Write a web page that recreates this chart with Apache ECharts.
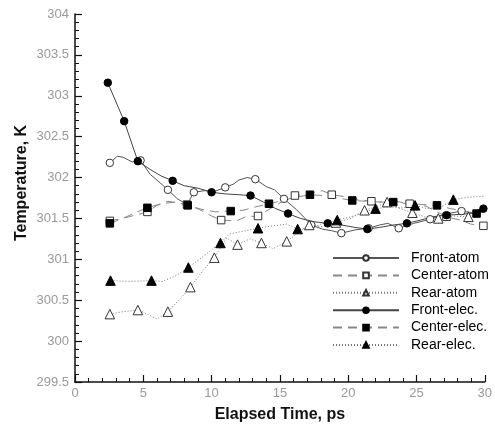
<!DOCTYPE html>
<html>
<head>
<meta charset="utf-8">
<script src="https://cdn.jsdelivr.net/npm/echarts@6/dist/echarts.min.js"></script>
<style>
html,body{margin:0;padding:0;background:#fff;}
#chart{width:495px;height:428px;}
</style>
</head>
<body>
<div id="chart"></div>
<script>
// ---- data ----
var xTicks = [0, 5, 10, 15, 20, 25, 30];
var yTicks = [299.5, 300, 300.5, 301, 301.5, 302, 302.5, 303, 303.5, 304];
var yTitle = 'Temperature, K';
var xTitle = 'Elapsed Time, ps';

var frontAtomX = [2.55,3.1,3.5,4.2,4.8,5.5,6.0,6.8,7.5,8.2,8.7,9.5,10.2,11.0,11.6,12.0,12.6,13.2,14.0,14.6,15.3,16.2,16.9,17.3,18.1,18.8,19.5,20.5,21.5,22.3,22.9,23.7,24.8,26.0,27.0,28.3,29.0,29.8];
var frontAtomY = [302.18,302.26,302.25,302.19,302.21,302.04,301.97,301.85,301.74,301.67,301.82,301.84,301.83,301.88,301.92,301.97,302.0,301.98,301.89,301.85,301.74,301.61,301.49,301.42,301.37,301.35,301.32,301.36,301.38,301.42,301.44,301.38,301.44,301.49,301.55,301.59,301.57,301.62];
var frontAtomMarks = [2.55,4.8,6.8,8.7,11.0,13.2,15.3,17.3,19.5,21.5,23.7,26.0,28.3];

var centerAtomX = [2.55,3.5,4.4,5.3,6.0,6.8,7.5,8.2,9.1,10.0,10.7,11.8,12.5,13.4,14.6,15.3,16.1,17.0,18.1,18.8,19.6,20.8,21.7,22.6,23.5,24.5,25.7,27.2,28.2,29.0,29.9];
var centerAtomY = [301.47,301.5,301.54,301.58,301.66,301.71,301.69,301.67,301.61,301.53,301.48,301.47,301.52,301.53,301.65,301.72,301.78,301.8,301.84,301.79,301.77,301.73,301.71,301.7,301.71,301.68,301.65,301.52,301.48,301.43,301.41];
var centerAtomMarks = [2.55,5.3,8.2,10.7,13.4,16.1,18.8,21.7,24.5,27.2,29.9];

var rearAtomX = [2.55,3.5,4.6,5.3,6.0,6.8,7.6,8.45,9.3,10.2,11.1,11.9,12.8,13.65,14.5,15.5,16.3,17.15,18.1,19.1,20.2,21.2,22.0,22.85,23.8,24.7,25.6,26.6,27.7,28.8,29.9];
var rearAtomY = [300.33,300.36,300.38,300.33,300.27,300.36,300.5,300.66,300.85,301.02,301.26,301.18,301.25,301.2,301.13,301.22,301.32,301.42,301.4,301.45,301.5,301.6,301.64,301.7,301.62,301.57,301.52,301.5,301.53,301.52,301.6];
var rearAtomMarks = [2.55,4.6,6.8,8.45,10.2,11.9,13.65,15.5,17.15,19.1,21.2,22.85,24.7,26.6,28.8];

var frontElecX = [2.4,3.6,4.6,5.5,6.3,7.15,8.0,9.0,10.0,11.0,12.0,12.85,13.8,14.7,15.6,16.5,17.5,18.5,19.5,20.5,21.4,22.3,23.3,24.3,25.3,26.2,27.2,28.2,29.0,29.9];
var frontElecY = [303.16,302.69,302.2,302.1,302.02,301.96,301.9,301.87,301.82,301.8,301.79,301.78,301.7,301.62,301.56,301.5,301.46,301.44,301.42,301.39,301.37,301.39,301.42,301.44,301.48,301.52,301.54,301.55,301.56,301.62];
var frontElecMarks = [2.4,3.6,4.6,7.15,10.0,12.85,15.6,18.5,21.4,24.3,27.2,29.9];

var centerElecX = [2.55,3.5,4.4,5.3,6.3,7.3,8.25,9.3,10.3,11.4,12.3,13.2,14.2,15.2,16.2,17.2,18.2,19.2,20.3,21.3,22.3,23.3,24.4,25.5,26.5,27.5,28.5,29.4,29.9];
var centerElecY = [301.44,301.5,301.57,301.63,301.68,301.7,301.66,301.61,301.58,301.59,301.6,301.64,301.68,301.72,301.76,301.79,301.78,301.75,301.72,301.71,301.7,301.7,301.68,301.67,301.66,301.62,301.59,301.56,301.58];
var centerElecMarks = [2.55,5.3,8.25,11.4,14.2,17.2,20.3,23.3,26.5,29.4];

var rearElecX = [2.6,4.0,5.6,6.4,7.4,8.3,9.5,10.65,11.3,12.5,13.4,14.5,15.5,16.3,17.4,18.1,19.2,20.2,21.1,22.0,23.0,24.0,24.9,25.8,26.8,27.7,28.8,29.9];
var rearElecY = [300.74,300.73,300.74,300.73,300.8,300.9,301.05,301.2,301.31,301.35,301.38,301.41,301.43,301.37,301.38,301.44,301.48,301.52,301.57,301.62,301.64,301.63,301.66,301.62,301.64,301.73,301.76,301.77];
var rearElecMarks = [2.6,5.6,8.3,10.65,13.4,16.3,19.2,22.0,24.9,27.7];

// ---- build ----
function build(xs, ys, marks) {
  return xs.map(function (x, i) {
    var item = { value: [x, ys[i]] };
    if (marks.indexOf(x) < 0) item.symbol = 'none';
    return item;
  });
}
var FONT = 'Liberation Sans, Arial, sans-serif';
function mkSeries(name, xs, ys, marks, symbol, filled, lineType, lineColor, size) {
  return {
    name: name,
    type: 'line',
    data: build(xs, ys, marks),
    symbol: symbol,
    symbolSize: size,
    showSymbol: true,
    showAllSymbol: true,
    smooth: false,
    animation: false,
    lineStyle: { color: lineColor, width: 1, type: lineType },
    itemStyle: filled ? { color: '#000', borderColor: '#000', borderWidth: 1 }
                      : { color: '#fff', borderColor: '#333', borderWidth: 1 },
    emphasis: { disabled: true }
  };
}

var chart = echarts.init(document.getElementById('chart'), null, { renderer: 'canvas' });
chart.setOption({
  animation: false,
  backgroundColor: '#fff',
  grid: { left: 75, right: 9, top: 14, bottom: 39, containLabel: false },
  graphic: [{
    type: 'text',
    x: 22,
    y: 183,
    rotation: Math.PI / 2,
    style: {
      text: yTitle,
      fontFamily: FONT, fontSize: 16, fontWeight: 'bold', fill: '#111',
      align: 'center', verticalAlign: 'middle'
    }
  }],
  legend: {
    orient: 'vertical',
    left: 327,
    top: 246,
    itemWidth: 66,
    itemHeight: 7,
    itemGap: 3.4,
    selectedMode: false,
    textStyle: { fontFamily: FONT, fontSize: 14, color: '#000', lineHeight: 14, padding: [0, 0, 0, 7] },
    data: ['Front-atom', 'Center-atom', 'Rear-atom', 'Front-elec.', 'Center-elec.', 'Rear-elec.']
  },
  xAxis: {
    type: 'value',
    min: xTicks[0],
    max: xTicks[xTicks.length - 1],
    interval: 5,
    name: xTitle,
    nameLocation: 'middle',
    nameGap: 25,
    nameTextStyle: { fontFamily: FONT, fontSize: 16, fontWeight: 'bold', color: '#111' },
    axisLine: { lineStyle: { color: '#111', width: 1.5 } },
    axisTick: { inside: true, length: 7, lineStyle: { color: '#111', width: 1.2 } },
    minorTick: { show: true, splitNumber: 5, length: 4, lineStyle: { color: '#111', width: 1 } },
    splitLine: { show: false },
    axisLabel: { color: '#999', fontFamily: FONT, fontSize: 13, margin: 5 }
  },
  yAxis: {
    type: 'value',
    min: yTicks[0],
    max: yTicks[yTicks.length - 1],
    interval: 0.5,
    axisLine: { lineStyle: { color: '#111', width: 1.5 } },
    axisTick: { inside: true, length: 7, lineStyle: { color: '#111', width: 1.2 } },
    minorTick: { show: true, splitNumber: 5, length: 4, lineStyle: { color: '#111', width: 1 } },
    splitLine: { show: false },
    axisLabel: { color: '#999', fontFamily: FONT, fontSize: 13, margin: 6 }
  },
  series: [
    mkSeries('Front-atom', frontAtomX, frontAtomY, frontAtomMarks, 'circle', false, 'solid', '#555', 7.5),
    mkSeries('Center-atom', centerAtomX, centerAtomY, centerAtomMarks, 'rect', false, [9, 6], '#888', 7.5),
    mkSeries('Rear-atom', rearAtomX, rearAtomY, rearAtomMarks, 'triangle', false, [1, 2], '#777', 9.5),
    mkSeries('Front-elec.', frontElecX, frontElecY, frontElecMarks, 'circle', true, 'solid', '#444', 7.5),
    mkSeries('Center-elec.', centerElecX, centerElecY, centerElecMarks, 'rect', true, [9, 6], '#888', 7.5),
    mkSeries('Rear-elec.', rearElecX, rearElecY, rearElecMarks, 'triangle', true, [1, 2], '#777', 9.5)
  ]
});
</script>
</body>
</html>
